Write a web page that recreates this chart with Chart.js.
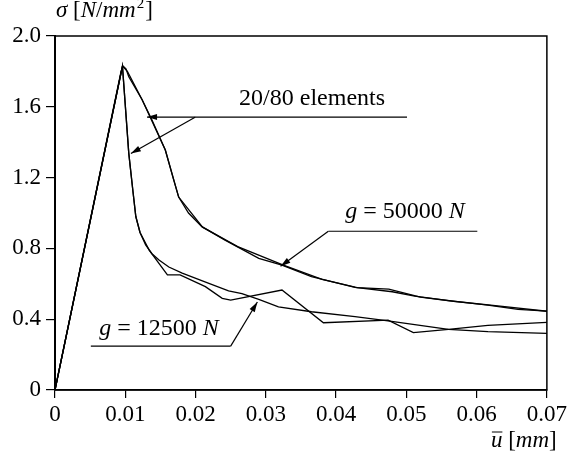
<!DOCTYPE html>
<html>
<head>
<meta charset="utf-8">
<script src="https://cdn.jsdelivr.net/npm/chart.js@4.4.0/dist/chart.umd.min.js"></script>
<style>
  body { margin: 0; background: #fff; }
</style>
</head>
<body>
<canvas id="chart" width="570" height="455"></canvas>
<script>
// tick values and labels
var xTicks = [0, 0.01, 0.02, 0.03, 0.04, 0.05, 0.06, 0.07];
var xTickLabels = ['0', '0.01', '0.02', '0.03', '0.04', '0.05', '0.06', '0.07'];
var yTicks = [0, 0.4, 0.8, 1.2, 1.6, 2.0];
var yTickLabels = ['0', '0.4', '0.8', '1.2', '1.6', '2.0'];

// g = 50000 N, 80 elements (smooth)
var g50k80x = [0, 0.0094, 0.0097, 0.0101, 0.0105, 0.0124, 0.0138, 0.0157, 0.0169, 0.0176, 0.019, 0.0209, 0.0242, 0.029, 0.0323, 0.0365, 0.0427, 0.048, 0.0512, 0.056, 0.0616, 0.0659, 0.07];
var g50k80y = [0, 1.80, 1.83, 1.815, 1.77, 1.64, 1.525, 1.356, 1.186, 1.09, 1.0, 0.923, 0.847, 0.744, 0.706, 0.64, 0.58, 0.555, 0.53, 0.505, 0.48, 0.456, 0.446];

// g = 50000 N, 20 elements
var g50k20x = [0, 0.0096, 0.0103, 0.0124, 0.0157, 0.0176, 0.021, 0.026, 0.0325, 0.038, 0.043, 0.0475, 0.052, 0.057, 0.063, 0.07];
var g50k20y = [0, 1.83, 1.8, 1.64, 1.356, 1.09, 0.92, 0.81, 0.705, 0.625, 0.578, 0.57, 0.525, 0.5, 0.475, 0.445];

// g = 12500 N, 80 elements (smooth)
var g12k80x = [0, 0.0096, 0.0105, 0.0111, 0.0115, 0.0121, 0.0129, 0.0138, 0.0148, 0.0162, 0.0181, 0.0219, 0.0247, 0.0266, 0.029, 0.0318, 0.0365, 0.0427, 0.0474, 0.056, 0.0616, 0.07];
var g12k80y = [0, 1.83, 1.337, 1.12, 0.98, 0.89, 0.82, 0.77, 0.734, 0.695, 0.66, 0.603, 0.56, 0.545, 0.512, 0.47, 0.442, 0.414, 0.39, 0.343, 0.33, 0.32];

// g = 12500 N, 20 elements
var g12k20x = [0, 0.0096, 0.0105, 0.0111, 0.0115, 0.0121, 0.0134, 0.016, 0.0178, 0.0214, 0.0238, 0.025, 0.0323, 0.0382, 0.0474, 0.051, 0.056, 0.0616, 0.07];
var g12k20y = [0, 1.83, 1.337, 1.12, 0.98, 0.89, 0.79, 0.65, 0.65, 0.584, 0.518, 0.508, 0.565, 0.38, 0.395, 0.324, 0.343, 0.365, 0.382];

function pts(xs, ys) {
    return xs.map(function (x, i) { return { x: x, y: ys[i] }; });
}

function line(xs, ys) {
    return {
        data: pts(xs, ys),
        borderColor: '#000',
        borderWidth: 1.3,
        pointRadius: 0,
        fill: false,
        tension: 0
    };
}

var serif = 'Liberation Serif';
var tickFont = { family: serif, size: 23 };

// draws text made of regular / italic runs
function runs(ctx, x, y, parts, size) {
    parts.forEach(function (p) {
        ctx.font = (p[1] ? 'italic ' : '') + size + 'px "' + serif + '"';
        ctx.fillText(p[0], x, y);
        x += ctx.measureText(p[0]).width;
    });
    return x;
}

function arrow(ctx, x1, y1, x2, y2) {
    ctx.beginPath();
    ctx.moveTo(x1, y1);
    ctx.lineTo(x2, y2);
    ctx.stroke();
    var a = Math.atan2(y2 - y1, x2 - x1), len = 10, w = 3;
    ctx.beginPath();
    ctx.moveTo(x2, y2);
    ctx.lineTo(x2 - len * Math.cos(a) + w * Math.sin(a), y2 - len * Math.sin(a) - w * Math.cos(a));
    ctx.lineTo(x2 - len * Math.cos(a) - w * Math.sin(a), y2 - len * Math.sin(a) + w * Math.cos(a));
    ctx.closePath();
    ctx.fill();
}

var notes = {
    id: 'notes',
    afterDatasetsDraw: function (chart) {
        var ctx = chart.ctx, a = chart.chartArea;
        var sx = chart.scales.x, sy = chart.scales.y;
        function px(v) { return sx.getPixelForValue(v); }
        function py(v) { return sy.getPixelForValue(v); }
        ctx.save();
        ctx.strokeStyle = '#000';
        ctx.fillStyle = '#000';
        ctx.lineWidth = 1.5;
        ctx.strokeRect(a.left, a.top, a.right - a.left, a.bottom - a.top);

        ctx.lineWidth = 1.2;
        ctx.textBaseline = 'alphabetic';

        // 20/80 elements
        runs(ctx, px(0.0262), py(1.61), [['20/80 elements', false]], 24);
        ctx.beginPath();
        ctx.moveTo(px(0.0200), py(1.542));
        ctx.lineTo(px(0.0501), py(1.542));
        ctx.stroke();
        arrow(ctx, px(0.0200), py(1.542), px(0.0131), py(1.542));
        arrow(ctx, px(0.0200), py(1.542), px(0.0108), py(1.336));

        // g = 50000 N
        runs(ctx, px(0.0413), py(0.97), [['g', true], [' = 50000 ', false], ['N', true]], 24);
        ctx.beginPath();
        ctx.moveTo(px(0.0389), py(0.897));
        ctx.lineTo(px(0.0601), py(0.897));
        ctx.stroke();
        arrow(ctx, px(0.0389), py(0.897), px(0.0321), py(0.699));

        // g = 12500 N
        runs(ctx, px(0.0063), py(0.308), [['g', true], [' = 12500 ', false], ['N', true]], 24);
        ctx.beginPath();
        ctx.moveTo(px(0.0051), py(0.248));
        ctx.lineTo(px(0.0250), py(0.248));
        ctx.stroke();
        arrow(ctx, px(0.0250), py(0.248), px(0.0288), py(0.497));

        // axis titles
        var x = runs(ctx, a.left + 1, a.top - 19, [['σ', true], [' [', false], ['N', true], ['/', false], ['mm', true]], 23);
        ctx.font = '15px "' + serif + '"';
        ctx.fillText('2', x + 1, a.top - 28);
        x += ctx.measureText('2').width + 2;
        runs(ctx, x, a.top - 19, [[']', false]], 23);

        var ux = a.right - 56, uy = a.bottom + 57;
        runs(ctx, ux, uy, [['u', true], [' [', false], ['mm', true], [']', false]], 23);
        ctx.font = 'italic 23px "' + serif + '"';
        var uw = ctx.measureText('u').width;
        ctx.lineWidth = 1;
        ctx.beginPath();
        ctx.moveTo(ux + 1, uy - 15);
        ctx.lineTo(ux + uw, uy - 15);
        ctx.stroke();
        ctx.restore();
    }
};

new Chart(document.getElementById('chart').getContext('2d'), {
    type: 'line',
    data: {
        datasets: [
            line(g50k80x, g50k80y),
            line(g50k20x, g50k20y),
            line(g12k80x, g12k80y),
            line(g12k20x, g12k20y)
        ]
    },
    options: {
        responsive: false,
        animation: false,
        layout: { padding: { top: 36, right: 21, left: 0, bottom: 0 } },
        plugins: { legend: { display: false }, tooltip: { enabled: false } },
        scales: {
            x: {
                type: 'linear',
                min: 0,
                max: 0.07,
                afterBuildTicks: function (s) { s.ticks = xTicks.map(function (v) { return { value: v }; }); },
                afterFit: function (s) { s.height = 65; },
                grid: { drawOnChartArea: false, drawTicks: true, tickLength: 8, color: '#000', lineWidth: 1.2 },
                border: { display: true, color: '#000', width: 1.5 },
                ticks: {
                    font: tickFont, color: '#000', padding: 3, maxRotation: 0, autoSkip: false,
                    callback: function (v, i) { return xTickLabels[i]; }
                }
            },
            y: {
                type: 'linear',
                min: 0,
                max: 2.0,
                afterBuildTicks: function (s) { s.ticks = yTicks.map(function (v) { return { value: v }; }); },
                afterFit: function (s) { s.width = 55; },
                grid: { drawOnChartArea: false, drawTicks: true, tickLength: 9, color: '#000', lineWidth: 1.2 },
                border: { display: true, color: '#000', width: 2 },
                ticks: {
                    font: tickFont, color: '#000', padding: 5, autoSkip: false,
                    callback: function (v, i) { return yTickLabels[i]; }
                }
            }
        }
    },
    plugins: [notes]
});
</script>
</body>
</html>
